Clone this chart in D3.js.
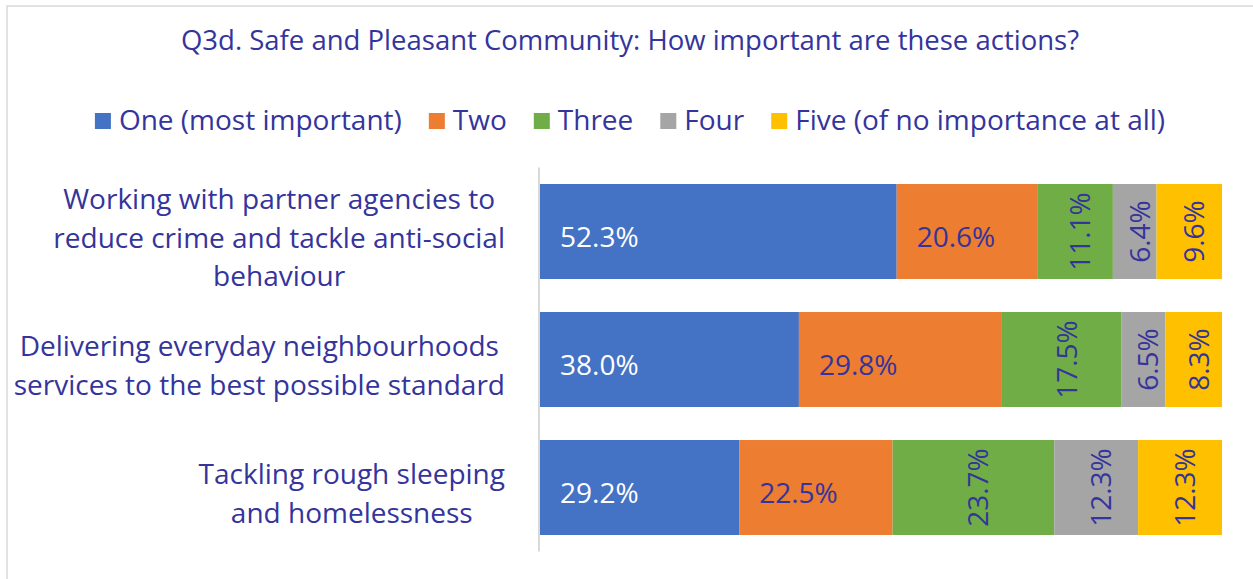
<!DOCTYPE html>
<html>
<head>
<meta charset="utf-8">
<script src="https://cdn.jsdelivr.net/npm/d3@7"></script>
<style>
  body { margin: 0; background: #fff; }
  text { font-family: 'Open Sans', sans-serif; }
</style>
</head>
<body>
<svg id="chart" width="1253" height="579"></svg>
<script>
const title = 'Q3d. Safe and Pleasant Community: How important are these actions?'

const categories = [
	['Working with partner agencies to', 'reduce crime and tackle anti-social', 'behaviour'],
	['Delivering everyday neighbourhoods', 'services to the best possible standard'],
	['Tackling rough sleeping', 'and homelessness']
]

const seriesNames = ['One (most important)', 'Two', 'Three', 'Four', 'Five (of no importance at all)']
const seriesKeys = ['one', 'two', 'three', 'four', 'five']

const one = [52.3, 38.0, 29.2]
const two = [20.6, 29.8, 22.5]
const three = [11.1, 17.5, 23.7]
const four = [6.4, 6.5, 12.3]
const five = [9.6, 8.3, 12.3]

const colors = ['#4472C4', '#ED7D31', '#70AD47', '#A5A5A5', '#FFC000']
const textColor = '#34349c'

const rows = categories.map((c, i) => ({
	idx: i,
	one: one[i],
	two: two[i],
	three: three[i],
	four: four[i],
	five: five[i]
}))

const svg = d3.select('#chart')

// chart frame (only top and left visible in the crop)
svg.append('rect')
	.attr('x', 7)
	.attr('y', 6)
	.attr('width', 1400)
	.attr('height', 700)
	.attr('fill', 'none')
	.attr('stroke', '#d9d9d9')
	.attr('stroke-width', 1.5)

svg.append('text')
	.attr('x', 630)
	.attr('y', 50)
	.attr('text-anchor', 'middle')
	.attr('font-size', 27.5)
	.attr('fill', textColor)
	.text(title)

// legend
const legend = svg.append('g')
const items = legend.selectAll('g')
	.data(seriesNames)
	.enter()
	.append('g')

items.append('rect')
	.attr('width', 16)
	.attr('height', 16)
	.attr('y', 113)
	.attr('fill', (d, i) => colors[i])

items.append('text')
	.attr('x', 24)
	.attr('y', 130)
	.attr('font-size', 28)
	.attr('fill', textColor)
	.text(d => d)

let offset = 0
const positions = []
items.each(function() {
	const w = d3.select(this).select('text').node().getComputedTextLength()
	positions.push(offset)
	offset += 24 + w + 27
})
const legendWidth = offset - 27
const legendStart = 630 - legendWidth / 2
items.attr('transform', (d, i) => `translate(${legendStart + positions[i]},0)`)

// scales
const y = d3.scaleBand()
	.domain(d3.range(categories.length))
	.range([167.5, 551.5])
	.paddingInner(0.258)
	.paddingOuter(0.129)

const x = d3.scaleLinear()
	.domain([0, 1])
	.range([540, 1222])

const stacked = d3.stack()
	.keys(seriesKeys)
	.offset(d3.stackOffsetExpand)(rows)

const layers = svg.selectAll('g.layer')
	.data(stacked)
	.enter()
	.append('g')
	.attr('class', 'layer')
	.attr('fill', (d, i) => colors[i])

layers.selectAll('rect')
	.data(d => d)
	.enter()
	.append('rect')
	.attr('x', d => x(d[0]))
	.attr('y', d => y(d.data.idx))
	.attr('width', d => x(d[1]) - x(d[0]))
	.attr('height', y.bandwidth())

// data labels
stacked.forEach((layer, si) => {
	const key = seriesKeys[si]
	layer.forEach(d => {
		const cy = y(d.data.idx) + y.bandwidth() / 2
		const label = d.data[key].toFixed(1) + '%'
		if (si < 2) {
			svg.append('text')
				.attr('x', x(d[0]) + 20)
				.attr('y', cy + 15)
				.attr('font-size', 28)
				.attr('fill', si === 0 ? '#ffffff' : textColor)
				.text(label)
		} else {
			const cx = (x(d[0]) + x(d[1])) / 2
			svg.append('text')
				.attr('transform', `translate(${cx},${cy}) rotate(-90)`)
				.attr('y', 15)
				.attr('text-anchor', 'middle')
				.attr('font-size', 28)
				.attr('fill', textColor)
				.text(label)
		}
	})
})

// category axis
svg.append('line')
	.attr('x1', 539)
	.attr('x2', 539)
	.attr('y1', y.range()[0])
	.attr('y2', y.range()[1])
	.attr('stroke', '#d9d9d9')
	.attr('stroke-width', 2)

const catGroups = svg.selectAll('g.cat')
	.data(categories)
	.enter()
	.append('g')
	.attr('class', 'cat')

catGroups.each(function(lines, i) {
	const g = d3.select(this)
	const cy = y(i) + y.bandwidth() / 2
	const texts = g.selectAll('text')
		.data(lines)
		.enter()
		.append('text')
		.attr('text-anchor', 'middle')
		.attr('font-size', 28)
		.attr('fill', textColor)
		.attr('y', (d, j) => cy + 16 + (j - (lines.length - 1) / 2) * 38.5)
		.text(d => d)
	let maxW = 0
	texts.each(function() {
		maxW = Math.max(maxW, this.getComputedTextLength())
	})
	texts.attr('x', 505 - maxW / 2)
})
</script>
</body>
</html>
